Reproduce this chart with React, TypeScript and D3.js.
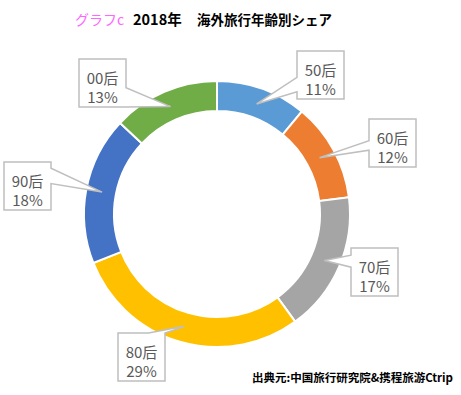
import React, { useEffect, useRef } from 'react';
import * as d3 from 'd3';

const categories = ['50后', '60后', '70后', '80后', '90后', '00后'];
const shares = [11, 12, 17, 29, 18, 13];
const colors = ['#5B9BD5', '#ED7D31', '#A5A5A5', '#FFC000', '#4472C4', '#70AD47'];

// callout box layout (top-left corner) and the edge the pointer leaves from
const boxPos = [
  [297, 51],
  [369, 119],
  [351, 248],
  [118, 333],
  [4, 162],
  [79, 59],
];
const wedgeSide = ['left', 'left', 'left', 'top', 'right', 'right'];
const wedgeRange = [
  [0.55, 0.85],
  [0.45, 0.65],
  [0.15, 0.4],
  [0.65, 1.0],
  [0.13, 0.45],
  [0.6, 1.0],
];

const W = 461;
const H = 395;

const App: React.FC = () => {
  const svgRef = useRef<SVGSVGElement>(null);

  useEffect(() => {
    if (!svgRef.current) return;
    const svg = d3.select(svgRef.current);
    svg.selectAll('*').remove();

    const cx = 217;
    const cy = 214;
    const outerR = 133;
    const innerR = 103;
    const font = '"Noto Sans CJK JP", "Noto Sans", sans-serif';

    // Title
    svg.append('text')
      .attr('x', 75)
      .attr('y', 25)
      .attr('font-family', font)
      .attr('font-size', 14)
      .attr('fill', '#FF66FF')
      .text('グラフc');

    svg.append('text')
      .attr('x', 133)
      .attr('y', 25)
      .attr('font-family', font)
      .attr('font-size', 14.5)
      .attr('font-weight', 'bold')
      .attr('fill', '#000')
      .text('2018年');

    svg.append('text')
      .attr('x', 197)
      .attr('y', 25)
      .attr('font-family', font)
      .attr('font-size', 13.5)
      .attr('font-weight', 'bold')
      .attr('fill', '#000')
      .text('海外旅行年齢別シェア');

    // Donut
    const pie = d3.pie<number>().sort(null).value(d => d);
    const arcs = pie(shares);
    const arc = d3.arc<d3.PieArcDatum<number>>()
      .innerRadius(innerR)
      .outerRadius(outerR);

    const g = svg.append('g').attr('transform', `translate(${cx},${cy})`);
    g.selectAll('path.slice')
      .data(arcs)
      .enter()
      .append('path')
      .attr('class', 'slice')
      .attr('d', arc)
      .attr('fill', (d, i) => colors[i])
      .attr('stroke', '#fff')
      .attr('stroke-width', 2);

    // Callouts
    const bw = 47;
    const bh = 48;
    const P = 2 * bw + 2 * bh;
    const tipR = 117;

    const perim = (side: string, f: number) => {
      if (side === 'top') return f * bw;
      if (side === 'right') return bw + f * bh;
      if (side === 'bottom') return bw + bh + (1 - f) * bw;
      return 2 * bw + bh + (1 - f) * bh;
    };
    const ptAt = (x: number, y: number, s: number): [number, number] => {
      s = ((s % P) + P) % P;
      if (s <= bw) return [x + s, y];
      if (s <= bw + bh) return [x + bw, y + (s - bw)];
      if (s <= 2 * bw + bh) return [x + bw - (s - bw - bh), y + bh];
      return [x, y + bh - (s - 2 * bw - bh)];
    };

    arcs.forEach((a, i) => {
      const [bx, by] = boxPos[i];
      const mid = (a.startAngle + a.endAngle) / 2;
      const tip: [number, number] = [cx + tipR * Math.sin(mid), cy - tipR * Math.cos(mid)];
      const s1raw = perim(wedgeSide[i], wedgeRange[i][0]);
      const s2raw = perim(wedgeSide[i], wedgeRange[i][1]);
      const s1 = Math.min(s1raw, s2raw);
      const s2 = Math.max(s1raw, s2raw);
      const corners = [0, bw, bw + bh, 2 * bw + bh];
      const pts: [number, number][] = [ptAt(bx, by, s2)];
      // walk clockwise from s2 around to s1 + P
      const walk = corners
        .map(c => (c <= s2 ? c + P : c))
        .filter(c => c > s2 && c < s1 + P)
        .sort((p, q) => p - q);
      walk.forEach(c => pts.push(ptAt(bx, by, c)));
      pts.push(ptAt(bx, by, s1));
      pts.push(tip);

      svg.append('path')
        .attr('d', d3.line()(pts) + 'Z')
        .attr('fill', '#fff')
        .attr('stroke', '#BFBFBF')
        .attr('stroke-width', 1.5)
        .attr('stroke-linejoin', 'miter');

      svg.append('text')
        .attr('x', bx + bw / 2)
        .attr('y', by + 18)
        .attr('text-anchor', 'middle')
        .attr('dominant-baseline', 'central')
        .attr('font-family', font)
        .attr('font-size', 15)
        .attr('fill', '#595959')
        .text(categories[i]);

      svg.append('text')
        .attr('x', bx + bw / 2)
        .attr('y', by + 37)
        .attr('text-anchor', 'middle')
        .attr('dominant-baseline', 'central')
        .attr('font-family', font)
        .attr('font-size', 15)
        .attr('fill', '#595959')
        .text(`${shares[i]}%`);
    });

    // Source
    svg.append('text')
      .attr('x', 453)
      .attr('y', 382)
      .attr('text-anchor', 'end')
      .attr('font-family', font)
      .attr('font-size', 11.5)
      .attr('font-weight', 'bold')
      .attr('fill', '#000')
      .text('出典元:中国旅行研究院&携程旅游Ctrip');
  }, []);

  return (
    <div style={{ position: 'absolute', left: 0, top: 0, width: W, height: H, background: '#fff' }}>
      <svg ref={svgRef} width={W} height={H} style={{ display: 'block' }} />
    </div>
  );
};

export default App;
